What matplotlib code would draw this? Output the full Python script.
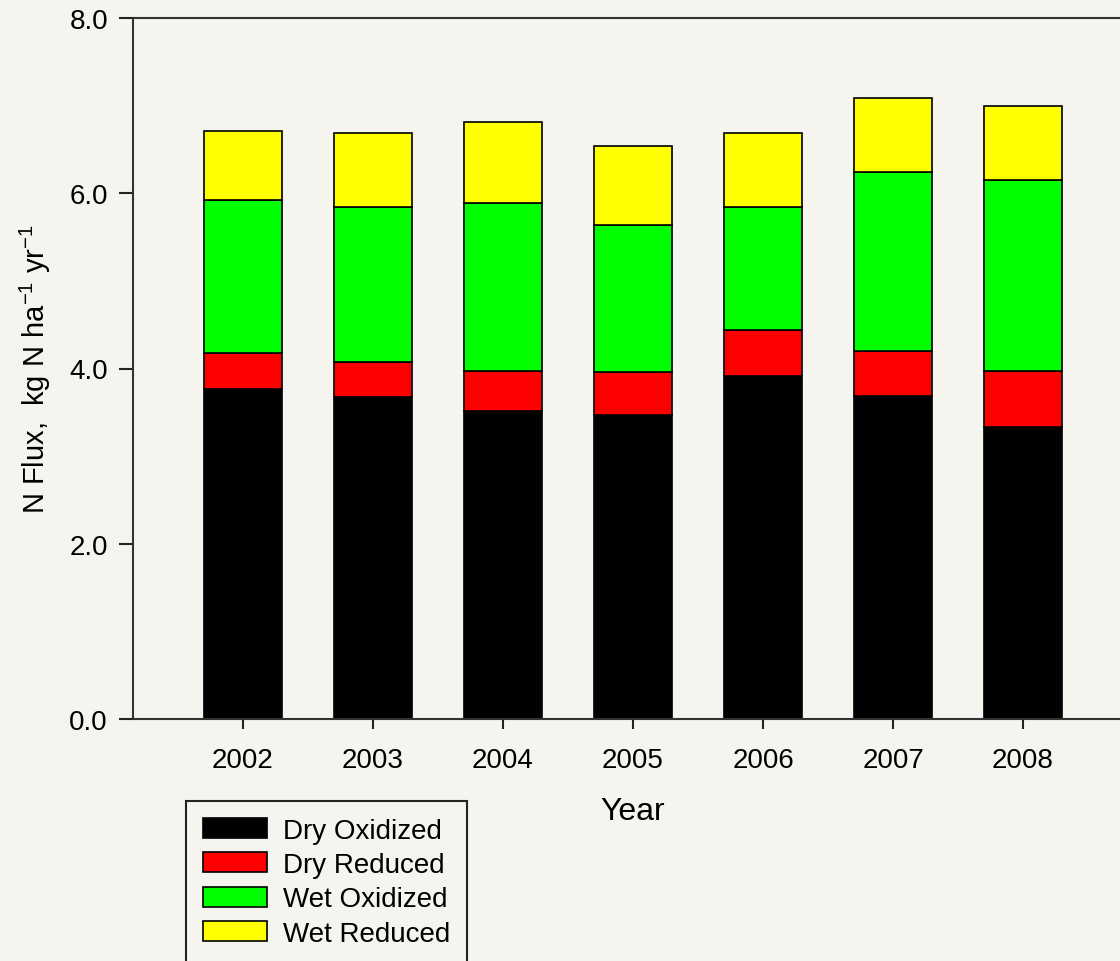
import matplotlib.pyplot as plt
import numpy as np

years = ["2002", "2003", "2004", "2005", "2006", "2007", "2008"]
dry_oxidized = [3.77, 3.67, 3.51, 3.47, 3.91, 3.69, 3.33]
dry_reduced = [0.41, 0.40, 0.46, 0.49, 0.53, 0.51, 0.64]
wet_oxidized = [1.74, 1.77, 1.92, 1.68, 1.40, 2.04, 2.18]
wet_reduced = [0.79, 0.85, 0.92, 0.90, 0.85, 0.85, 0.85]

series = [("Dry Oxidized", dry_oxidized, "#000000"),
          ("Dry Reduced", dry_reduced, "#ff0000"),
          ("Wet Oxidized", wet_oxidized, "#00ff00"),
          ("Wet Reduced", wet_reduced, "#ffff00")]

plt.rcParams['font.family'] = ['Liberation Sans', 'DejaVu Sans']
plt.rcParams['mathtext.fontset'] = 'custom'
plt.rcParams['mathtext.rm'] = 'Liberation Sans'
bg = "#f5f4ef"

fig = plt.figure(figsize=(11.2, 9.62), dpi=100, facecolor=bg)
ax = fig.add_axes([133/1120, 242/962, 1000/1120, 701/962])
ax.set_facecolor(bg)

x = np.arange(len(years))
bottom = np.zeros(len(years))
for name, vals, col in series:
    ax.bar(x, vals, 0.6, bottom=bottom, color=col, edgecolor="black",
           linewidth=1.2, label=name)
    bottom += np.array(vals)

ax.set_xlim(-0.846, 6.846)
ax.set_ylim(0, 8)
ax.set_xticks(x)
ax.set_xticklabels(years)
ax.set_yticks([0, 2, 4, 6, 8])
ax.set_yticklabels(["0.0", "2.0", "4.0", "6.0", "8.0"])
ax.tick_params(axis='both', labelsize=20, width=1.5, colors="#222222",
               labelcolor="black")
ax.tick_params(axis='y', length=10, pad=8)
ax.tick_params(axis='x', length=7, pad=13)
for s in ax.spines.values():
    s.set_linewidth(1.5)
    s.set_color("#333333")

ax.set_xlabel("Year", fontsize=23, labelpad=17)
ax.set_ylabel(r"N Flux,  kg N ha$^{\mathrm{-1}}$ yr$^{\mathrm{-1}}$", fontsize=21,
              labelpad=12)

leg = fig.legend(loc="upper left", bbox_to_anchor=(186/1120, 1 - 802/962),
                 fontsize=20, frameon=True, fancybox=False, edgecolor="#222222",
                 facecolor=bg, framealpha=1, handlelength=2.3, handleheight=0.72,
                 handletextpad=0.6, labelspacing=0.3, borderpad=0.6,
                 borderaxespad=0)
leg.get_frame().set_linewidth(1.5)

plt.savefig("out.png", dpi=100, facecolor=bg)
